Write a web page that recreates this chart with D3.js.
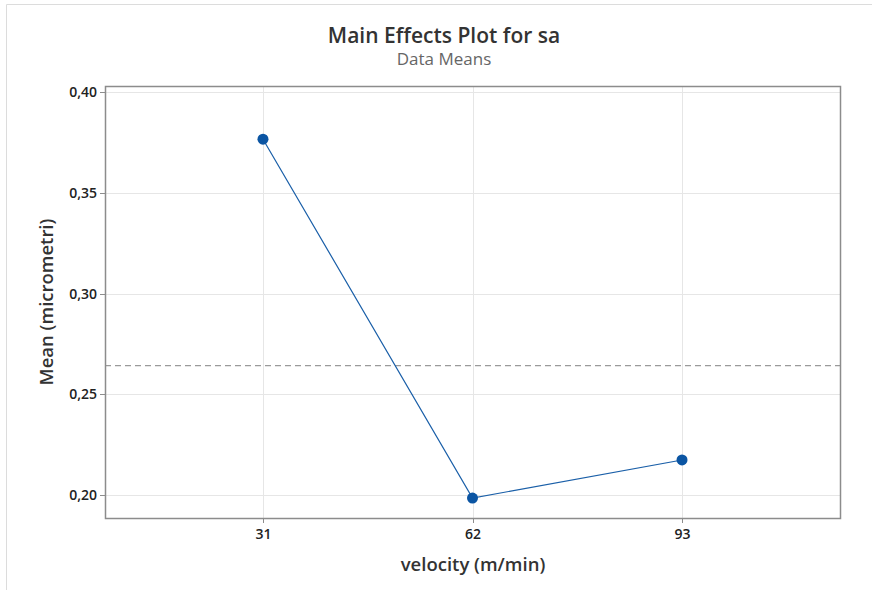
<!DOCTYPE html>
<meta charset="utf-8">
<style>
    body { margin: 0; background: #fff; }
    .axis path, .axis line { stroke: #8c8c8c; shape-rendering: crispEdges; }
    .axis text { font-family: "Open Sans", sans-serif; font-size: 14px; font-weight: 600; fill: #222; }
    .grid line { stroke: #e6e6e6; shape-rendering: crispEdges; }
</style>
<div id="chart"></div>
<script src="https://cdn.jsdelivr.net/npm/d3@7"></script>
<script>
    // data
    var levels = [31, 62, 93];
    var means = [0.3766, 0.1985, 0.2174];
    var grandMean = 0.2642;
    var yTicks = [0.20, 0.25, 0.30, 0.35, 0.40];

    var W = 872, H = 590;
    var plot = {left: 105, top: 86, right: 840, bottom: 518};

    var svg = d3.select('#chart').append('svg')
        .attr('width', W).attr('height', H);

    // outer frame (top + left visible)
    svg.append('line').attr('x1', 6.5).attr('x2', W).attr('y1', 4.5).attr('y2', 4.5)
        .attr('stroke', '#dcdcdc');
    svg.append('line').attr('x1', 6.5).attr('x2', 6.5).attr('y1', 4.5).attr('y2', H)
        .attr('stroke', '#dcdcdc');

    var x = d3.scalePoint()
        .domain(levels)
        .range([plot.left, plot.right])
        .padding(0.754);

    var y = d3.scaleLinear()
        .domain([0.1886, 0.403])
        .range([plot.bottom, plot.top]);

    // gridlines
    var grid = svg.append('g').attr('class', 'grid');
    grid.selectAll('.gy').data(yTicks).enter().append('line')
        .attr('x1', plot.left).attr('x2', plot.right)
        .attr('y1', function(d) { return Math.round(y(d)) + 0.5; })
        .attr('y2', function(d) { return Math.round(y(d)) + 0.5; });
    grid.selectAll('.gx').data(levels).enter().append('line')
        .attr('y1', plot.top).attr('y2', plot.bottom)
        .attr('x1', function(d) { return Math.round(x(d)) + 0.5; })
        .attr('x2', function(d) { return Math.round(x(d)) + 0.5; });

    // reference line at grand mean
    svg.append('line')
        .attr('x1', plot.left).attr('x2', plot.right)
        .attr('y1', y(grandMean)).attr('y2', y(grandMean))
        .attr('stroke', '#9a9a9a').attr('stroke-width', 1.2)
        .attr('stroke-dasharray', '6,4');

    // frame
    svg.append('rect')
        .attr('x', plot.left + 0.5).attr('y', plot.top + 0.5)
        .attr('width', plot.right - plot.left).attr('height', plot.bottom - plot.top)
        .attr('fill', 'none').attr('stroke', '#8c8c8c').attr('stroke-width', 1.5);

    var xAxis = d3.axisBottom(x).tickSize(5).tickPadding(6);
    svg.append('g').attr('class', 'x axis')
        .attr('transform', 'translate(0,' + plot.bottom + ')')
        .call(xAxis)
        .call(function(g) { g.select('.domain').remove(); });

    var yAxis = d3.axisLeft(y).tickValues(yTicks).tickSize(5).tickPadding(3)
        .tickFormat(function(d) { return d3.format('.2f')(d).replace('.', ','); });
    svg.append('g').attr('class', 'y axis')
        .attr('transform', 'translate(' + plot.left + ',0)')
        .call(yAxis)
        .call(function(g) { g.select('.domain').remove(); });

    // series
    var pts = levels.map(function(l, i) { return {x: l, y: means[i]}; });
    svg.append('path').datum(pts)
        .attr('fill', 'none').attr('stroke', '#1a5fa8').attr('stroke-width', 1.2)
        .attr('d', d3.line()
            .x(function(d) { return x(d.x); })
            .y(function(d) { return y(d.y); }));
    svg.selectAll('.pt').data(pts).enter().append('circle')
        .attr('cx', function(d) { return x(d.x); })
        .attr('cy', function(d) { return y(d.y); })
        .attr('r', 5.5)
        .attr('fill', '#0b55a3');

    // titles
    svg.append('text').attr('x', 444).attr('y', 43)
        .attr('text-anchor', 'middle')
        .style('font-family', '"Open Sans", sans-serif').style('font-size', '21px')
        .style('font-weight', 600).style('fill', '#333')
        .text('Main Effects Plot for sa');
    svg.append('text').attr('x', 444).attr('y', 65)
        .attr('text-anchor', 'middle')
        .style('font-family', '"Open Sans", sans-serif').style('font-size', '17px')
        .style('fill', '#666')
        .text('Data Means');

    svg.append('text').attr('x', 473).attr('y', 571)
        .attr('text-anchor', 'middle')
        .style('font-family', '"Open Sans", sans-serif').style('font-size', '18.5px')
        .style('font-weight', 600).style('fill', '#333')
        .text('velocity (m/min)');
    svg.append('text')
        .attr('transform', 'translate(53,' + (plot.top + plot.bottom) / 2 + ') rotate(-90)')
        .attr('text-anchor', 'middle')
        .style('font-family', '"Open Sans", sans-serif').style('font-size', '18.5px')
        .style('font-weight', 600).style('fill', '#333')
        .text('Mean (micrometri)');
</script>
